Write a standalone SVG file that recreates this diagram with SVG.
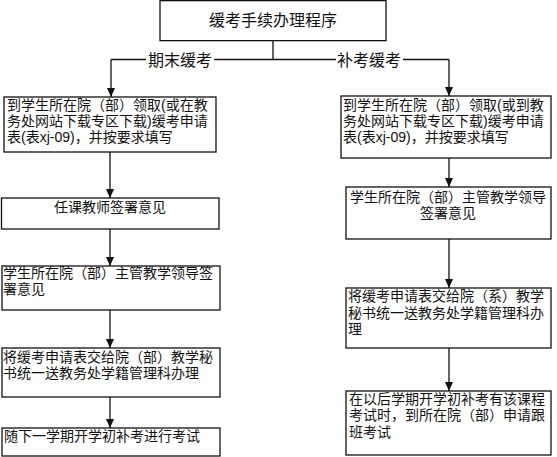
<svg xmlns="http://www.w3.org/2000/svg" width="557" height="457" viewBox="0 0 557 457">
<style>
.box{fill:#fff;stroke:#111;stroke-width:1.3}
.t{font-family:"Liberation Sans","Noto Sans CJK SC","Noto Sans CJK JP",sans-serif;font-size:14px;fill:#111}
.tc{text-anchor:middle}
.lbl{font-family:"Liberation Sans","Noto Sans CJK SC","Noto Sans CJK JP",sans-serif;font-size:16px;fill:#111;text-anchor:middle}
.ln{fill:none;stroke:#111;stroke-width:1.3}
</style>
<defs>
<marker id="arr" markerWidth="10" markerHeight="10" refX="9" refY="4" orient="auto" markerUnits="userSpaceOnUse">
<path d="M0,0 L9,4 L0,8 z" fill="#111"/>
</marker>
</defs>
<rect width="557" height="457" fill="#fff"/>
<g id="connectors">
<path class="ln" d="M273,40.5 V59.5 M111,59.5 H449"/>
<path class="ln" d="M111,59.5 V97" marker-end="url(#arr)"/>
<path class="ln" d="M449,59.5 V96" marker-end="url(#arr)"/>
<path class="ln" d="M110,152 V198" marker-end="url(#arr)"/>
<path class="ln" d="M110,229 V266" marker-end="url(#arr)"/>
<path class="ln" d="M110,310 V348" marker-end="url(#arr)"/>
<path class="ln" d="M110,397 V428" marker-end="url(#arr)"/>
<path class="ln" d="M449,158 V187" marker-end="url(#arr)"/>
<path class="ln" d="M449,239 V288" marker-end="url(#arr)"/>
<path class="ln" d="M449,348 V391" marker-end="url(#arr)"/>
<g id="label-qimo">
<rect x="146" y="51" width="68" height="18" fill="#fff"/>
<text class="lbl" x="180" y="66">期末缓考</text>
</g>
<g id="label-bukao">
<rect x="336" y="51" width="67" height="18" fill="#fff"/>
<text class="lbl" x="369" y="66">补考缓考</text>
</g>
</g>
<g id="title">
<rect class="box" x="160" y="0.65" width="226" height="40"/>
<text class="lbl" x="273" y="26">缓考手续办理程序</text>
</g>
<g id="L1">
<rect class="box" x="4" y="97" width="212" height="55"/>
<text class="t" x="7" y="110"><tspan x="7">到学生所在院（部）领取(或在教</tspan><tspan x="7" dy="16">务处网站下载专区下载)缓考申请</tspan><tspan x="7" dy="16">表(表xj-09)，并按要求填写</tspan></text>
</g>
<g id="L2">
<rect class="box" x="1.5" y="198" width="217.5" height="31"/>
<text class="t tc" x="110" y="212">任课教师签署意见</text>
</g>
<g id="L3">
<rect class="box" x="2" y="266" width="218" height="44"/>
<text class="t" x="3" y="278"><tspan x="3">学生所在院（部）主管教学领导签</tspan><tspan x="3" dy="16">署意见</tspan></text>
</g>
<g id="L4">
<rect class="box" x="2" y="348" width="218" height="49"/>
<text class="t" x="3" y="362"><tspan x="3">将缓考申请表交给院（部）教学秘</tspan><tspan x="3" dy="16">书统一送教务处学籍管理科办理</tspan></text>
</g>
<g id="L5">
<rect class="box" x="2" y="428" width="218" height="28"/>
<text class="t" x="4" y="441">随下一学期开学初补考进行考试</text>
</g>
<g id="R1">
<rect class="box" x="341" y="96" width="210" height="62"/>
<text class="t" x="343" y="110"><tspan x="343">到学生所在院（部）领取(或到教</tspan><tspan x="343" dy="16">务处网站下载专区下载)缓考申请</tspan><tspan x="343" dy="16">表(表xj-09)，并按要求填写</tspan></text>
</g>
<g id="R2">
<rect class="box" x="346" y="187" width="205" height="52"/>
<text class="t tc" x="448" y="202"><tspan x="448">学生所在院（部）主管教学领导</tspan><tspan x="448" dy="16">签署意见</tspan></text>
</g>
<g id="R3">
<rect class="box" x="346" y="288" width="205" height="60"/>
<text class="t" x="348" y="301"><tspan x="348">将缓考申请表交给院（系）教学</tspan><tspan x="348" dy="17">秘书统一送教务处学籍管理科办</tspan><tspan x="348" dy="16">理</tspan></text>
</g>
<g id="R4">
<rect class="box" x="346" y="391" width="205" height="64"/>
<text class="t" x="349" y="404"><tspan x="349">在以后学期开学初补考有该课程</tspan><tspan x="349" dy="16">考试时，到所在院（部）申请跟</tspan><tspan x="349" dy="17">班考试</tspan></text>
</g>
</svg>
